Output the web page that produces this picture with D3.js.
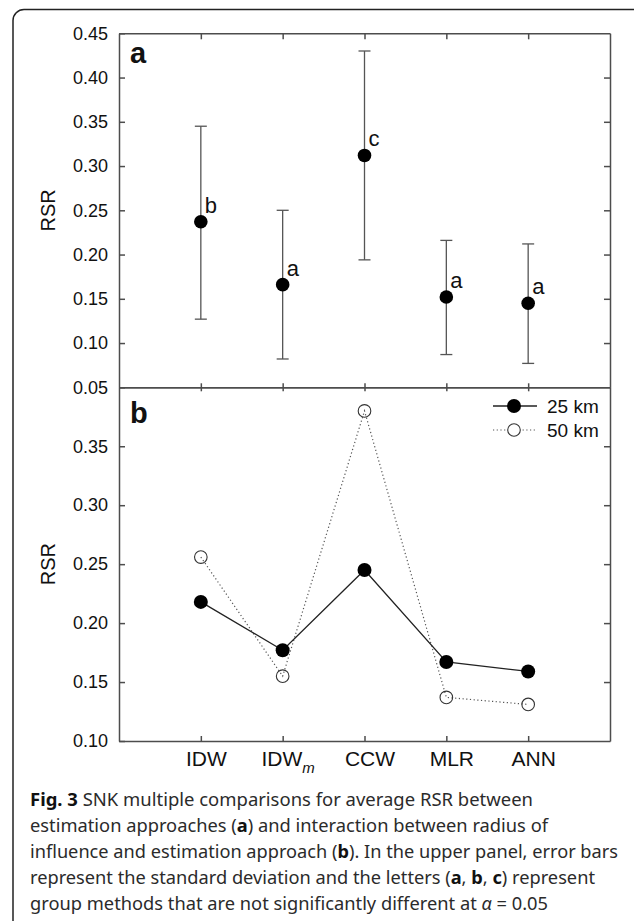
<!DOCTYPE html>
<html>
<head>
<meta charset="utf-8">
<script src="https://cdn.jsdelivr.net/npm/d3@7"></script>
<style>
  body { margin: 0; background: #fff; }
  svg { display: block; }
</style>
</head>
<body>
<script>
// Estimation approaches on the x axis
const categories = ["IDW", "IDWm", "CCW", "MLR", "ANN"];

// Panel a: mean RSR with standard deviation range and SNK group letters
const meanRSR = [0.237, 0.166, 0.312, 0.152, 0.145];
const sdUpper = [0.345, 0.250, 0.430, 0.216, 0.212];
const sdLower = [0.127, 0.082, 0.194, 0.087, 0.077];
const groupLetters = ["b", "a", "c", "a", "a"];

// Panel b: RSR by radius of influence
const rsr25km = [0.218, 0.177, 0.245, 0.167, 0.159];
const rsr50km = [0.256, 0.155, 0.380, 0.137, 0.131];

const topTicks = [0.05, 0.10, 0.15, 0.20, 0.25, 0.30, 0.35, 0.40, 0.45];
const bottomTicks = [0.10, 0.15, 0.20, 0.25, 0.30, 0.35];

const width = 634, height = 921;
const axisColor = "#4d4d4d";
const chartFont = "'Liberation Sans', Arial, sans-serif";

const svg = d3.select("body")
    .append("svg")
    .attr("width", width)
    .attr("height", height);

// figure frame with rounded corners
svg.append("rect")
    .attr("x", 13)
    .attr("y", 9.5)
    .attr("width", 640)
    .attr("height", 1000)
    .attr("rx", 11)
    .attr("fill", "none")
    .attr("stroke", "#222")
    .attr("stroke-width", 1.5);

const plotLeft = 119, plotRight = 610;
const x = d3.scalePoint()
    .domain(categories)
    .range([plotLeft, plotRight])
    .padding(1);

const yTop = d3.scaleLinear().domain([0.05, 0.45]).range([387.3, 33.3]);
const yBot = d3.scaleLinear().domain([0.10, 0.40]).range([741, 387.3]);

// helper to style an axis group
function styleAxis(g, fontSize) {
    g.selectAll("path, line")
        .attr("stroke", axisColor)
        .attr("stroke-width", 1.5);
    g.selectAll("text")
        .attr("fill", "#111")
        .style("font-family", chartFont)
        .style("font-size", fontSize + "px");
}

// ---- Panel a axes ----
svg.append("g")
    .attr("transform", `translate(${plotLeft},0)`)
    .call(d3.axisLeft(yTop).tickValues(topTicks).tickSize(-6).tickSizeOuter(0)
        .tickPadding(11).tickFormat(d3.format(".2f")))
    .call(g => styleAxis(g, 18));

svg.append("g")
    .attr("transform", `translate(${plotRight},0)`)
    .call(d3.axisRight(yTop).tickValues(topTicks.slice(1, -1)).tickSize(-6).tickSizeOuter(0).tickFormat(""))
    .call(g => styleAxis(g, 18));

svg.append("g")
    .attr("transform", `translate(0,${yTop(0.45)})`)
    .call(d3.axisTop(x).tickSize(-6).tickSizeOuter(0).tickFormat(""))
    .call(g => styleAxis(g, 18));

svg.append("g")
    .attr("transform", `translate(0,${yTop(0.05)})`)
    .call(d3.axisBottom(x).tickSize(-4).tickSizeOuter(0).tickFormat(""))
    .call(g => styleAxis(g, 18));

// ---- Panel b axes ----
svg.append("g")
    .attr("transform", `translate(${plotLeft},0)`)
    .call(d3.axisLeft(yBot).tickValues(bottomTicks).tickSize(-6).tickSizeOuter(0)
        .tickPadding(11).tickFormat(d3.format(".2f")))
    .call(g => styleAxis(g, 18));

svg.append("g")
    .attr("transform", `translate(${plotRight},0)`)
    .call(d3.axisRight(yBot).tickValues(bottomTicks.slice(1)).tickSize(-6).tickSizeOuter(0).tickFormat(""))
    .call(g => styleAxis(g, 18));

svg.append("g")
    .attr("transform", `translate(0,${yBot(0.40)})`)
    .call(d3.axisTop(x).tickSize(-4).tickSizeOuter(0).tickFormat(""))
    .call(g => styleAxis(g, 18));

const xAxisBottom = svg.append("g")
    .attr("transform", `translate(0,${yBot(0.10)})`)
    .call(d3.axisBottom(x).tickSize(-5).tickSizeOuter(0).tickPadding(10))
    .call(g => styleAxis(g, 21));

// shift labels a little right and give IDWm its italic subscript
xAxisBottom.selectAll(".tick text")
    .attr("dx", 5)
    .each(function(d) {
        if (d === "IDWm") {
            const t = d3.select(this).text("");
            t.append("tspan").text("IDW");
            t.append("tspan").text("m")
                .style("font-style", "italic")
                .style("font-size", "15px")
                .attr("dy", 7);
        }
    });

// panel letters
svg.append("text")
    .attr("x", 130).attr("y", 63)
    .text("a")
    .style("font-family", chartFont)
    .style("font-weight", "bold")
    .style("font-size", "29px")
    .attr("fill", "#111");

svg.append("text")
    .attr("x", 130).attr("y", 423)
    .text("b")
    .style("font-family", chartFont)
    .style("font-weight", "bold")
    .style("font-size", "29px")
    .attr("fill", "#111");

// y axis titles
[[yTop, 0.25], [yBot, 0.25]].forEach(([scale, v]) => {
    svg.append("text")
        .attr("transform", `translate(55,${scale(v)}) rotate(-90)`)
        .attr("text-anchor", "middle")
        .text("RSR")
        .style("font-family", chartFont)
        .style("font-size", "20px")
        .attr("fill", "#111");
});

// ---- Panel a marks ----
const statsData = categories.map((c, i) => ({
    cat: c, mean: meanRSR[i], hi: sdUpper[i], lo: sdLower[i], letter: groupLetters[i]
}));

const bars = svg.append("g")
    .attr("stroke", "#555")
    .attr("stroke-width", 1.3);

bars.selectAll("line.whisker")
    .data(statsData)
    .enter()
    .append("line")
    .attr("x1", d => x(d.cat)).attr("x2", d => x(d.cat))
    .attr("y1", d => yTop(d.hi)).attr("y2", d => yTop(d.lo));

bars.selectAll("line.capHi")
    .data(statsData)
    .enter()
    .append("line")
    .attr("x1", d => x(d.cat) - 6).attr("x2", d => x(d.cat) + 6)
    .attr("y1", d => yTop(d.hi)).attr("y2", d => yTop(d.hi));

bars.selectAll("line.capLo")
    .data(statsData)
    .enter()
    .append("line")
    .attr("x1", d => x(d.cat) - 6).attr("x2", d => x(d.cat) + 6)
    .attr("y1", d => yTop(d.lo)).attr("y2", d => yTop(d.lo));

svg.append("g").selectAll("circle")
    .data(statsData)
    .enter()
    .append("circle")
    .attr("cx", d => x(d.cat))
    .attr("cy", d => yTop(d.mean))
    .attr("r", 6.8)
    .attr("fill", "#000");

svg.append("g").selectAll("text")
    .data(statsData)
    .enter()
    .append("text")
    .attr("x", d => x(d.cat) + 4)
    .attr("y", d => yTop(d.mean) - 9)
    .text(d => d.letter)
    .style("font-family", chartFont)
    .style("font-size", "22px")
    .attr("fill", "#111");

// ---- Panel b marks ----
const line = d3.line()
    .x(d => x(d.cat))
    .y(d => yBot(d.v));

const series50 = categories.map((c, i) => ({ cat: c, v: rsr50km[i] }));
const series25 = categories.map((c, i) => ({ cat: c, v: rsr25km[i] }));

svg.append("path")
    .datum(series50)
    .attr("d", line)
    .attr("fill", "none")
    .attr("stroke", "#555")
    .attr("stroke-width", 1.2)
    .attr("stroke-dasharray", "1.2,2.5");

svg.append("path")
    .datum(series25)
    .attr("d", line)
    .attr("fill", "none")
    .attr("stroke", "#222")
    .attr("stroke-width", 1.3);

svg.append("g").selectAll("circle")
    .data(series50)
    .enter()
    .append("circle")
    .attr("cx", d => x(d.cat))
    .attr("cy", d => yBot(d.v))
    .attr("r", 6.3)
    .attr("fill", "none")
    .attr("stroke", "#333")
    .attr("stroke-width", 1.1);

svg.append("g").selectAll("circle")
    .data(series25)
    .enter()
    .append("circle")
    .attr("cx", d => x(d.cat))
    .attr("cy", d => yBot(d.v))
    .attr("r", 7)
    .attr("fill", "#000");

// legend
const legendItems = [
    { label: "25 km", filled: true, y: 406 },
    { label: "50 km", filled: false, y: 430 }
];

const legend = svg.append("g");
legendItems.forEach(item => {
    legend.append("line")
        .attr("x1", 493).attr("x2", 537)
        .attr("y1", item.y).attr("y2", item.y)
        .attr("stroke", item.filled ? "#222" : "#555")
        .attr("stroke-width", item.filled ? 1.3 : 1.2)
        .attr("stroke-dasharray", item.filled ? null : "1.2,2.5");
    legend.append("circle")
        .attr("cx", 514).attr("cy", item.y)
        .attr("r", item.filled ? 7 : 6.3)
        .attr("fill", item.filled ? "#000" : "#fff")
        .attr("stroke", item.filled ? "none" : "#333")
        .attr("stroke-width", 1.1);
    legend.append("text")
        .attr("x", 547).attr("y", item.y + 7)
        .text(item.label)
        .style("font-family", chartFont)
        .style("font-size", "19px")
        .attr("fill", "#111");
});

// ---- caption ----
// each line is a list of [text, style] parts; w is the line width in the original
const captionLines = [
    { parts: [["Fig. 3", "bold"], [" SNK multiple comparisons for average RSR between", ""]], w: 503 },
    { parts: [["estimation approaches (", ""], ["a", "bold"], [") and interaction between radius of", ""]], w: 518 },
    { parts: [["influence and estimation approach (", ""], ["b", "bold"], ["). In the upper panel, error bars", ""]], w: 588 },
    { parts: [["represent the standard deviation and the letters (", ""], ["a", "bold"], [", ", ""], ["b", "bold"], [", ", ""], ["c", "bold"], [") represent", ""]], w: 565 },
    { parts: [["group methods that are not significantly different at ", ""], ["α", "italic"], [" = 0.05", ""]], w: 518 }
];

const caption = svg.append("g")
    .style("font-family", "'Noto Sans', 'Open Sans', sans-serif")
    .style("font-size", "17.5px")
    .attr("fill", "#2b2b2b");

captionLines.forEach((ln, i) => {
    const t = caption.append("text")
        .attr("x", 30)
        .attr("y", 806 + i * 26);
    ln.parts.forEach(([txt, style]) => {
        const ts = t.append("tspan").text(txt);
        if (style === "bold") ts.style("font-weight", "bold").attr("fill", "#111");
        if (style === "italic") ts.style("font-style", "italic");
    });
    // fit to the measured line width of the original
    const natural = t.node().getComputedTextLength();
    if (Math.abs(natural - ln.w) > 2) {
        t.attr("textLength", ln.w).attr("lengthAdjust", "spacingAndGlyphs");
    }
});
</script>
</body>
</html>
